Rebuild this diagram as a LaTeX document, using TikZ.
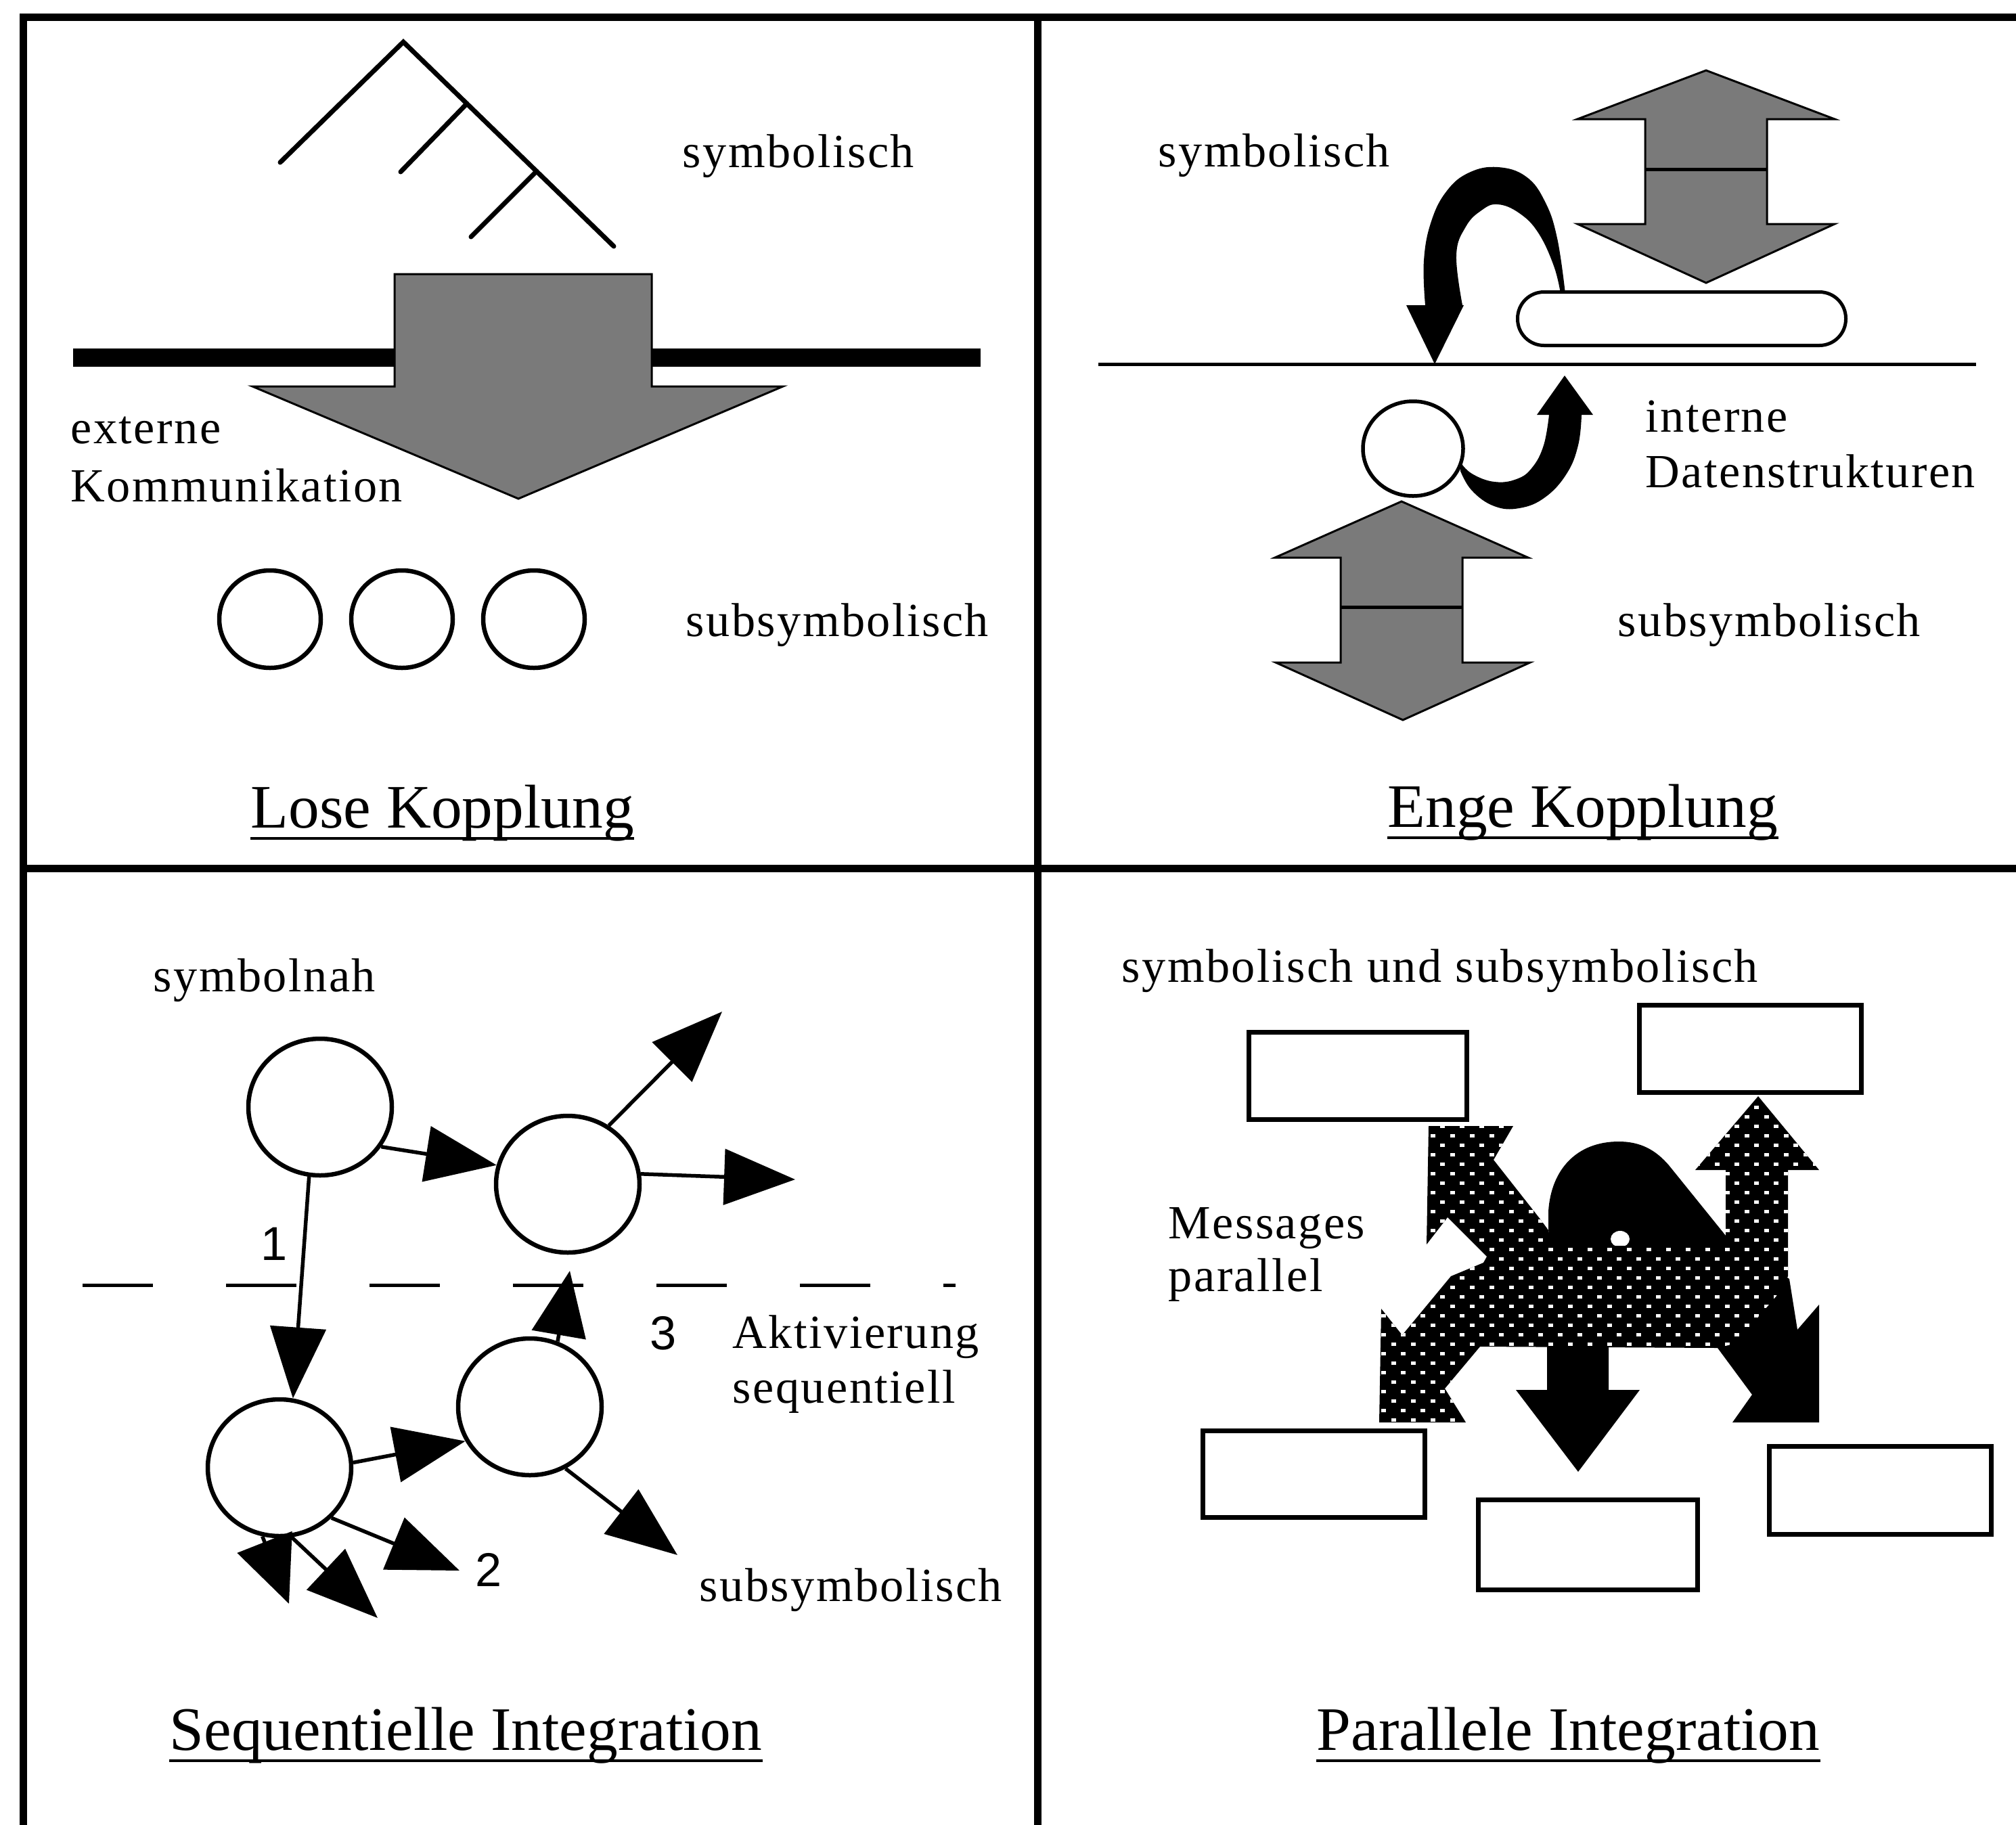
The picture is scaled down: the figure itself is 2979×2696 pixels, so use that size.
\documentclass[tikz,border=0pt]{standalone}
\usepackage{fontspec}
\setmainfont{Liberation Serif}
\newfontfamily\lblfamily{Liberation Serif}[LetterSpace=3.5]
\newfontfamily\numfamily{Liberation Sans}
\usetikzlibrary{arrows.meta,shapes.geometric}

\tikzset{
  frame/.style={line width=1.1mm, line cap=rect},
  lbl/.style={font=\lblfamily\fontsize{20}{24}\selectfont, inner sep=0pt, anchor=base west},
  ttl/.style={font=\rmfamily\fontsize{26}{30}\selectfont, inner sep=0pt, anchor=base west},
  num/.style={font=\numfamily\fontsize{20}{24}\selectfont, inner sep=0pt, anchor=base west},
  uline/.style={line width=0.4mm},
  halftone/.style={fill=black!52, draw=black, line width=0.3mm, line join=miter},
  ring/.style={ellipse, draw, line width=0.65mm, fill=white, inner sep=0pt},
  treeline/.style={line width=0.7mm, line cap=round},
  sarr/.style={line width=0.55mm, -{Triangle[length=10.5mm,width=8.2mm]}},
  box/.style={draw, line width=0.7mm, inner sep=0pt, fill=white},
}

\begin{document}
\begin{tikzpicture}[x=0.1mm, y=-0.1mm]
\useasboundingbox (0,0) rectangle (2979,2696);

% ---------- frame ----------
\draw[frame] (34,2696) -- (34,25) -- (2979,25);
\draw[frame] (1533,25) -- (1533,2696);
\draw[frame] (34,1283) -- (2979,1283);

% ---------- Lose Kopplung ----------
\draw[treeline] (414,240) -- (596,62) -- (907,364);
\draw[treeline] (690,153) -- (592,254);
\draw[treeline] (793,253) -- (696,350);
\fill (108,515) rectangle (1449,542);
\filldraw[halftone] (583,405) -- (963,405) -- (963,571) -- (1157,571)
  -- (766,737) -- (373,571) -- (583,571) -- cycle;
\node[ring, minimum width=15mm, minimum height=14.4mm] (lk1) at (399,915) {};
\node[ring, minimum width=15mm, minimum height=14.4mm] (lk2) at (594,915) {};
\node[ring, minimum width=15mm, minimum height=14.4mm] (lk3) at (789,915) {};
\node[lbl] (lksym) at (1008,247) {symbolisch};
\node[lbl] (lkext) at (104,655) {externe};
\node[lbl] (lkkom) at (104,741) {Kommunikation};
\node[lbl] (lksub) at (1013,940) {subsymbolisch};
\node[ttl] (lkttl) at (370,1223) {Lose Kopplung};
\draw[uline] ([yshift=-1.6mm]lkttl.base west) -- ([yshift=-1.6mm]lkttl.base east);

% ---------- Enge Kopplung ----------
\draw[line width=0.5mm] (1623,538) -- (2920,538);
% upper double arrow
\filldraw[halftone] (2521,104) -- (2711,176) -- (2611,176) -- (2611,331) -- (2711,331)
  -- (2521,418) -- (2331,331) -- (2431,331) -- (2431,176) -- (2331,176) -- cycle;
\draw[line width=0.5mm] (2431,250) -- (2611,250);
% lower double arrow
\filldraw[halftone] (2071,741) -- (2258,824) -- (2161,824) -- (2161,979) -- (2261,979)
  -- (2073,1064) -- (1885,979) -- (1981,979) -- (1981,824) -- (1884,824) -- cycle;
\draw[line width=0.5mm] (1981,897) -- (2161,897);
% curved arrow from the data structure back down to the line
\fill (2120,538) -- (2078,451) -- (2106,451)
  -- plot[smooth, tension=0.7] coordinates {(2106,451) (2104,385) (2115,327) (2138,282) (2171,255) (2213,247) (2255,261) (2283,298) (2301,352) (2313,434)}
  -- plot[smooth, tension=0.7] coordinates {(2306,434) (2296,393) (2273,344) (2245,315) (2213,302) (2189,311) (2166,335) (2152,377) (2161,451)}
  -- (2163,451) -- cycle;
% curved arrow from the unit up to the line
\fill (2312,555) -- (2354,613) -- (2337,613)
  -- plot[smooth, tension=0.7] coordinates {(2337,613) (2332,658) (2315,700) (2283,735) (2245,751) (2208,748) (2175,725) (2158,696)}
  -- (2158,683)
  -- plot[smooth, tension=0.7] coordinates {(2158,683) (2175,700) (2208,712) (2241,708) (2264,691) (2281,658) (2289,613)}
  -- (2271,613) -- cycle;
\node[draw, line width=0.5mm, fill=white, rounded corners=3.9mm, minimum width=48.5mm,
  minimum height=7.9mm, inner sep=0pt] (ekpill) at (2485,471) {};
\node[ring, line width=0.55mm, minimum width=14.8mm, minimum height=14mm] (ekunit) at (2088,663) {};
\node[lbl] (eksym) at (1711,246) {symbolisch};
\node[lbl] (ekint) at (2431,638) {interne};
\node[lbl] (ekdat) at (2431,720) {Datenstrukturen};
\node[lbl] (eksub) at (2390,940) {subsymbolisch};
\node[ttl] (ekttl) at (2050,1222) {Enge Kopplung};
\draw[uline] ([yshift=-1.6mm]ekttl.base west) -- ([yshift=-1.6mm]ekttl.base east);

% ---------- Sequentielle Integration ----------
\draw[line width=0.5mm, dash pattern=on 10.4mm off 10.8mm] (122,1899) -- (1412,1899);
\node[ring, minimum width=21.2mm, minimum height=20.2mm] (sa) at (473,1636) {};
\node[ring, minimum width=21.2mm, minimum height=20.2mm] (sb) at (839,1750) {};
\node[ring, minimum width=21.2mm, minimum height=20.2mm] (sc) at (413,2169) {};
\node[ring, minimum width=21.2mm, minimum height=20.2mm] (sd) at (783,2079) {};
\coordinate (sbne) at (1067,1495);
\coordinate (sbe) at (1175,1743);
\coordinate (sbin) at (842,1878);
\coordinate (sdse) at (1001,2298);
\coordinate (sce) at (679,2321);
\coordinate (scse) at (558,2391);
\coordinate (scs) at (427,2370);
\draw[sarr] (sa.-33) -- (sb.165);
\draw[sarr] (sa.-99) -- (sc.79);
\draw[sarr] (sb.55) -- (sbne);
\draw[sarr] (sb.8) -- (sbe);
\draw[sarr] (sc.4) -- (sd.208);
\draw[line width=0.55mm, -{Triangle[length=9.6mm,width=8mm]}] (sd.67) -- (sbin);
\draw[sarr] (sd.-60) -- (sdse);
\draw[sarr] (sc.-44) -- (sce);
\draw[sarr] (sc.-80) -- (scse);
\draw[line width=0.55mm, -{Triangle[length=9.8mm,width=8.6mm]}] (sc.-104) -- (scs);
\node[lbl] (sqsym) at (226,1465) {symbolnah};
\node[num] (sq1) at (385,1862) {1};
\node[num] (sq2) at (702,2344) {2};
\node[num] (sq3) at (960,1994) {3};
\node[lbl] (sqakt) at (1082,1992) {Aktivierung};
\node[lbl] (sqseq) at (1082,2073) {sequentiell};
\node[lbl] (sqsub) at (1033,2366) {subsymbolisch};
\node[ttl] (sqttl) at (250,2586) {Sequentielle Integration};
\draw[uline] ([yshift=-1.6mm]sqttl.base west) -- ([yshift=-1.6mm]sqttl.base east);

% ---------- Parallele Integration ----------
\node[box, minimum width=32.2mm, minimum height=12.9mm] (pa) at (2006,1590) {};
\node[box, minimum width=32.8mm, minimum height=12.9mm] (pb) at (2586,1550) {};
\node[box, minimum width=32.8mm, minimum height=12.8mm] (pc) at (1941,2178) {};
\node[box, minimum width=32.4mm, minimum height=13.3mm] (pd) at (2346,2283) {};
\node[box, minimum width=32.8mm, minimum height=13mm] (pe) at (2778,2202) {};
% solid black arch with the arrow to the lower right
\fill (2288,1841) -- (2288,1790) .. controls (2292,1728) and (2330,1687) .. (2392,1687)
  .. controls (2425,1687) and (2447,1700) .. (2466,1722) -- (2550,1826) -- (2644,1890)
  -- (2656,1965) -- (2688,1928) -- (2688,2102) -- (2560,2102) -- (2589,2061)
  -- (2538,1992) -- (2481,1890) -- (2337,1841) -- cycle;
\fill[white] (2394,1831) ellipse [x radius=14, y radius=12];
% solid black arrow downwards
\fill (2286,1985) -- (2286,2054) -- (2240,2054) -- (2332,2175) -- (2423,2054)
  -- (2377,2054) -- (2377,1985) -- cycle;
% dotted arrows: upper left, up, lower left
\path[save path=\dotpath] (2111,1664) -- (2236,1664) -- (2207,1714) -- (2277,1803)
  -- (2288,1818) -- (2290,1841) -- (2550,1841) -- (2550,1729) -- (2505,1729)
  -- (2598,1620) -- (2688,1729) -- (2642,1729) -- (2642,1886) -- (2625,1915)
  -- (2565,1985) -- (2538,1992) -- (2187,1990) -- (2135,2052) -- (2166,2102)
  -- (2038,2102) -- (2041,1934) -- (2072,1973) -- (2144,1886) -- (2192,1866)
  -- (2197,1857) -- (2139,1799) -- (2108,1839) -- cycle;
\fill[black, use path=\dotpath];
\begin{scope}
  \clip[use path=\dotpath];
  \foreach \i in {0,...,35} {
    \foreach \j in {0,...,23} {
      \pgfmathsetmacro\xx{2030+29*\j+14.5*mod(\i,2)}
      \pgfmathsetmacro\yy{1622+14*\i}
      \fill[white] (\xx-3.5,\yy-2.5) rectangle (\xx+3.5,\yy+2.5);
    }
  }
\end{scope}
\node[lbl] (pisym) at (1657,1451) {symbolisch und subsymbolisch};
\node[lbl] (pimsg) at (1726,1830) {Messages};
\node[lbl] (pipar) at (1726,1908) {parallel};
\node[ttl] (pittl) at (1945,2586) {Parallele Integration};
\draw[uline] ([yshift=-1.6mm]pittl.base west) -- ([yshift=-1.6mm]pittl.base east);

\end{tikzpicture}
\end{document}
